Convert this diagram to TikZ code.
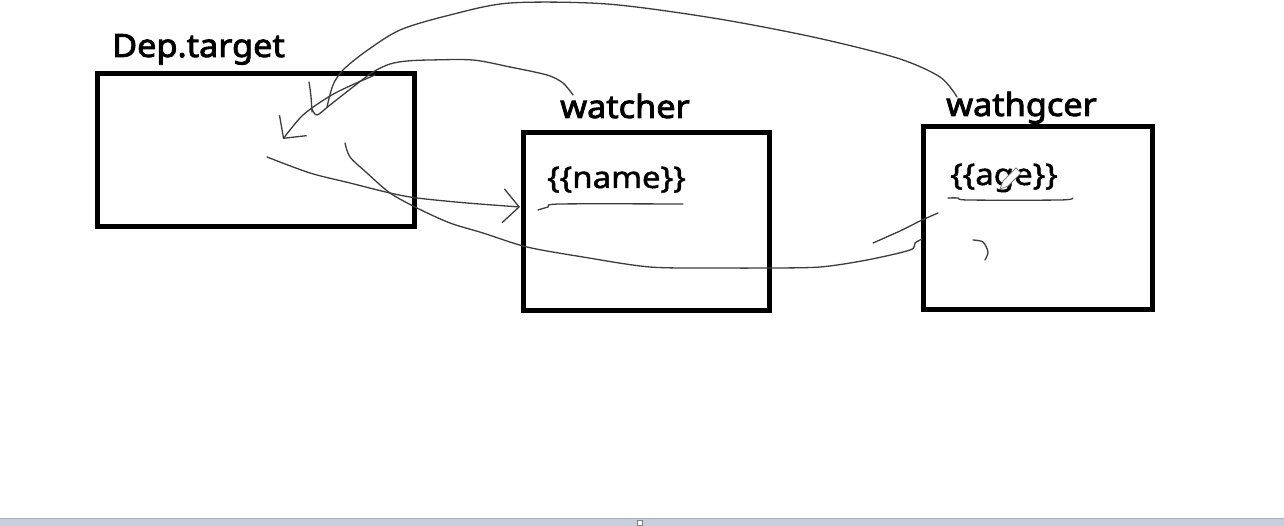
\documentclass[tikz,border=0pt]{standalone}
\usepackage{fontspec}
\setmainfont{Noto Sans}
\newfontfamily\headfont{Noto Sans}[FakeBold=2.6,FakeStretch=1.07]
\newfontfamily\tmplfont{Noto Sans}[FakeBold=1.6,FakeStretch=1.1]
\usetikzlibrary{arrows.meta}
\definecolor{Ink}{HTML}{3C3C3C}
\definecolor{Bar}{HTML}{C9CEDD}
\definecolor{BarEdge}{HTML}{A9AFC2}

\begin{document}
\begin{tikzpicture}[x=1pt,y=-1pt,
  box/.style={draw,line width=5pt,inner sep=0pt},
  title/.style={font=\fontsize{32}{36}\headfont,inner sep=0pt,anchor=base west},
  tmpl/.style={font=\fontsize{30}{34}\tmplfont,inner sep=0pt,anchor=base west},
  pen/.style={Ink,line width=1.3pt,line cap=round,line join=round},
  barb/.style={-{Straight Barb[length=16pt,width=34pt,line width=1.3pt]}}]
  \useasboundingbox (0,0) rectangle (1284,526);
  % boxes
  \node[box,minimum width=317pt,minimum height=153pt] (dep) at (255.5,150.5) {};
  \node[box,minimum width=246pt,minimum height=178pt] (wa) at (646,222) {};
  \node[box,minimum width=229pt,minimum height=183pt] (wb) at (1037.5,218.5) {};
  % labels
  \node[title] (depl) at (112,57) {Dep.target};
  \node[title] (wal) at (560,118) {watcher};
  \node[title] (wbl) at (946,116) {wathgcer};
  \node[tmpl] (name) at (547,188) {\{\{name\}\}};
  \node[tmpl] (age) at (950,185) {\{\{age\}\}};
  \coordinate (tipA) at (283,139);
  \coordinate (tipC) at (520,207);
  % scribbled links
  \draw[pen] plot[smooth] coordinates {(957,97) (940,77) (897,58) (813,37) (713,18) (607,4) (510,3) (450,15) (400,30) (365,52) (343,70) (333,85) (327,107)};
  \draw[pen] plot[smooth] coordinates {(573,95) (563,83) (547,75) (510,67) (473,60) (430,60) (407,61) (390,64) (373,72) (353,87) (330,105) (317,115) (312,109)};
  \draw[pen,barb] plot[smooth] coordinates {(375,75) (352,85) (330,96) (303,115) (tipA)};
  \draw[pen] (309,82) .. controls (311,95) .. (312,112);
  \draw[pen,barb] plot[smooth] coordinates {(267,157) (310,173) (350,183) (390,193) (417,198) (467,203) (tipC)};
  \draw[pen] plot[smooth] coordinates {(345,143) (350,157) (367,173) (390,193) (417,208) (450,223) (483,233) (527,247) (583,257) (650,267) (720,268) (767,268) (820,267) (867,260) (910,250) (915,243) (922,239)};
  \draw[pen] plot[smooth] coordinates {(873,243) (900,231) (920,221) (938,213)};
  % underlines
  \draw[pen] plot[smooth] coordinates {(538,210) (548,207) (560,204) (683,204)};
  \draw[pen] plot[smooth] coordinates {(948,198) (958,198) (968,200) (1060,200) (1073,198)};
  \draw[pen] plot[smooth] coordinates {(973,240) (983,242) (988,252) (985,260)};
  % pencil cursor
  \draw[gray,fill=white,line width=0.8pt] (1000,189) -- (1003,181) -- (1016,168) -- (1021,173) -- (1008,186) -- cycle;
  % scroll bar
  \fill[Bar] (0,518) rectangle (1284,526);
  \draw[BarEdge,line width=0.8pt] (0,518) -- (1284,518);
  \draw[gray,fill=white,line width=0.6pt] (637,520) rectangle (642,525);
\end{tikzpicture}
\end{document}
